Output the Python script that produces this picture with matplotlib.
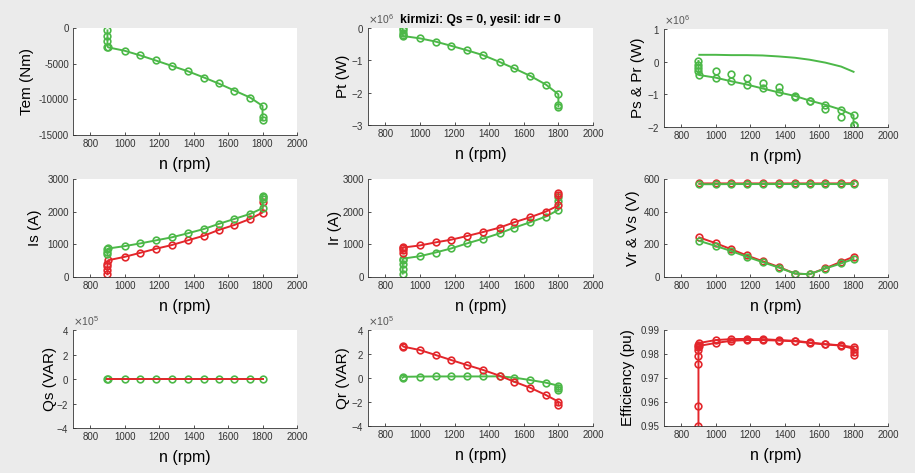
import matplotlib.pyplot as plt
from matplotlib.ticker import ScalarFormatter

# operating speeds (rpm)
speed = [905, 1000, 1090, 1180, 1272, 1365, 1460, 1545, 1637, 1728, 1800]

# Tem (Nm), green only visible
tem_n = [900, 900, 900, 900] + speed + [1800, 1800]
tem_g = [-330, -1080, -1875, -2600, -2720, -3190, -3840, -4550, -5300, -6050,
         -6940, -7780, -8770, -9750, -10920, -12520, -12890]

# Pt (W)
pt_n = [900, 900, 900, 900] + speed + [1800, 1800]
pt_g = [0.0, -0.07e6, -0.15e6, -0.22e6, -0.25e6, -0.32e6, -0.42e6, -0.55e6, -0.69e6,
        -0.84e6, -1.05e6, -1.25e6, -1.48e6, -1.75e6, -2.05e6, -2.37e6, -2.43e6]

# Ps & Pr (W)
pr_g = [0.21e6, 0.21e6, 0.20e6, 0.20e6, 0.19e6, 0.16e6, 0.12e6, 0.06e6, -0.03e6,
        -0.15e6, -0.31e6]
ps_n = [900, 900, 900, 900] + speed + [1800]
ps_g = [0.02e6, -0.10e6, -0.20e6, -0.30e6, -0.41e6, -0.49e6, -0.60e6, -0.70e6, -0.82e6,
        -0.94e6, -1.05e6, -1.19e6, -1.32e6, -1.47e6, -1.64e6, -1.95e6]
ps2_g = [-0.29e6, -0.38e6, -0.51e6, -0.64e6, -0.79e6, -1.07e6, -1.21e6, -1.44e6,
         -1.70e6, -1.95e6]

# Is (A)
is_n_g = [900, 900, 900] + speed + [1800, 1800, 1800]
is_g = [700, 780, 850, 873, 945, 1028, 1120, 1213, 1336, 1470, 1624, 1778, 1932,
        2107, 2384, 2446, 2487]
is_n_r = [900, 900, 900, 900] + speed + [1800]
is_r = [82, 206, 329, 411, 514, 617, 740, 863, 976, 1120, 1264, 1439, 1593, 1778,
        1973, 2282]

# Ir (A)
ir_n_r = [900, 900, 900] + speed + [1800, 1800]
ir_r = [740, 822, 873, 904, 966, 1059, 1141, 1254, 1377, 1511, 1675, 1829, 2004,
        2189, 2518, 2569]
ir_n_g = [900, 900, 900, 900] + speed + [1800, 1800]
ir_g = [103, 257, 390, 534, 565, 637, 750, 873, 1028, 1172, 1336, 1511, 1675, 1850,
        2055, 2312, 2446]

# Vr & Vs (V)
vs_r = [573, 573, 573, 573, 573, 573, 573, 573, 573, 573, 574]
vs_g = [568, 568, 569, 569, 569, 569, 569, 569, 569, 569, 569]
vr_r = [242, 207, 170, 132, 97, 62, 21, 17, 54, 93, 124]
vr_g = [221, 190, 159, 124, 91, 58, 21, 17, 52, 83, 110]

# Qs (VAR)
qs_n = [900] + speed
qs_g = [0, 0, 0, 0, 0, 0, 0, 0, 0, 0, 0, 0]
qs_r = [0, 0, 0, 0, 0, 0, 0, 0, 0, 0, 0, 0]

# Qr (VAR)
qr_n_r = [900] + speed + [1800]
qr_r = [2.69e5, 2.61e5, 2.33e5, 1.92e5, 1.50e5, 1.08e5, 0.67e5, 0.19e5, -0.31e5,
        -0.81e5, -1.42e5, -1.97e5, -2.25e5]
qr_n_g = [900] + speed + [1800, 1800]
qr_g = [0.03e5, 0.10e5, 0.12e5, 0.13e5, 0.13e5, 0.13e5, 0.13e5, 0.14e5, 0.03e5,
        -0.17e5, -0.39e5, -0.64e5, -0.81e5, -1.00e5]

# Efficiency (pu), both curves red
eff_n1 = [900, 900, 900, 900, 900, 900] + speed + [1800]
eff_1 = [0.9500, 0.9582, 0.9759, 0.9791, 0.9818, 0.9830, 0.9834, 0.9846, 0.9855,
         0.9858, 0.9858, 0.9856, 0.9853, 0.9846, 0.9840, 0.9835, 0.9822, 0.9797]
eff_n2 = [900] + speed + [1800]
eff_2 = [0.9839, 0.9846, 0.9858, 0.9862, 0.9863, 0.9862, 0.9858, 0.9855, 0.9848,
         0.9841, 0.9836, 0.9828, 0.9808]

RED = '#e3262b'
GREEN = '#4cb848'

plt.rcParams['font.family'] = ['Liberation Sans', 'DejaVu Sans']
plt.rcParams['axes.unicode_minus'] = False

W, H = 915, 473
fig = plt.figure(figsize=(W / 100, H / 100), dpi=100, facecolor='#ebebeb')


def make_axes(left, top, right, bottom, ylabel, ylab_px, ylim, yticks, sci=None):
    """Axes from pixel box, styled like a MATLAB subplot with box off."""
    ax = fig.add_axes([left / W, 1 - bottom / H, (right - left) / W, (bottom - top) / H])
    ax.set_facecolor('white')
    for s in ('top', 'right'):
        ax.spines[s].set_visible(False)
    for s in ('left', 'bottom'):
        ax.spines[s].set_linewidth(0.6)
        ax.spines[s].set_color('#333333')
    ax.set_xlim(700, 2000)
    ax.set_xticks([800, 1000, 1200, 1400, 1600, 1800, 2000])
    ax.set_ylim(*ylim)
    ax.set_yticks(yticks)
    ax.tick_params(direction='in', length=2.5, width=0.6, labelsize=7,
                   colors='#333333', pad=3)
    if sci is not None:
        fmt = ScalarFormatter(useMathText=True)
        fmt.set_powerlimits((sci, sci))
        ax.yaxis.set_major_formatter(fmt)
        ax.yaxis.get_offset_text().set_fontsize(7.5)
        ax.yaxis.get_offset_text().set_color('#555555')
    ax.set_xlabel('n (rpm)', fontsize=11.5)
    ax.xaxis.set_label_coords(0.5, -29 / (bottom - top))
    ax.xaxis.label.set_va('center')
    ax.set_ylabel(ylabel, fontsize=11)
    ax.yaxis.set_label_coords((ylab_px - left) / (right - left), 0.5)
    ax.yaxis.label.set_va('center')
    return ax


def curve(ax, n, v, color, marker='o', ls='-'):
    ax.plot(n, v, color=color, lw=1.4, ls=ls, marker=marker, ms=4.8,
            mfc='none', mec=color, mew=1.2)


# row 1
ax = make_axes(73, 28, 297, 135, 'Tem (Nm)', 27, (-15000, 0), [-15000, -10000, -5000, 0])
curve(ax, tem_n, tem_g, GREEN)

ax = make_axes(368, 28, 593, 125, 'Pt (W)', 343, (-3e6, 0), [-3e6, -2e6, -1e6, 0], sci=6)
curve(ax, pt_n, pt_g, GREEN)

ax = make_axes(664, 29, 888, 127, 'Ps & Pr (W)', 638, (-2e6, 1e6),
               [-2e6, -1e6, 0, 1e6], sci=6)
curve(ax, speed, pr_g, GREEN, marker=None)
curve(ax, ps_n, ps_g, GREEN)
curve(ax, speed[1:], ps2_g, GREEN, ls='none')

# row 2
ax = make_axes(73, 179, 297, 277, 'Is (A)', 35, (0, 3000), [0, 1000, 2000, 3000])
curve(ax, is_n_r, is_r, RED)
curve(ax, is_n_g, is_g, GREEN)

ax = make_axes(368, 179, 593, 277, 'Ir (A)', 335, (0, 3000), [0, 1000, 2000, 3000])
curve(ax, ir_n_g, ir_g, GREEN)
curve(ax, ir_n_r, ir_r, RED)

ax = make_axes(664, 179, 888, 277, 'Vr & Vs (V)', 633, (0, 600), [0, 200, 400, 600])
curve(ax, speed, vs_r, RED)
curve(ax, speed, vr_r, RED)
curve(ax, speed, vs_g, GREEN)
curve(ax, speed, vr_g, GREEN)

# row 3
ax = make_axes(73, 330, 297, 428, 'Qs (VAR)', 50, (-4e5, 4e5),
               [-4e5, -2e5, 0, 2e5, 4e5], sci=5)
curve(ax, qs_n, qs_g, GREEN)
curve(ax, qs_n, qs_r, RED, marker=None)

ax = make_axes(368, 330, 593, 426, 'Qr (VAR)', 343, (-4e5, 4e5),
               [-4e5, -2e5, 0, 2e5, 4e5], sci=5)
curve(ax, qr_n_g, qr_g, GREEN)
curve(ax, qr_n_r, qr_r, RED)

ax = make_axes(664, 330, 888, 426, 'Efficiency (pu)', 628, (0.95, 0.99),
               [0.95, 0.96, 0.97, 0.98, 0.99])
curve(ax, eff_n2, eff_2, RED)
curve(ax, eff_n1, eff_1, RED)

fig.text(480 / W, 1 - 20 / H, 'kirmizi: Qs = 0, yesil: idr = 0', ha='center',
         va='center', fontsize=8.7, fontweight='bold')

fig.savefig('out.png', dpi=100, facecolor=fig.get_facecolor())
